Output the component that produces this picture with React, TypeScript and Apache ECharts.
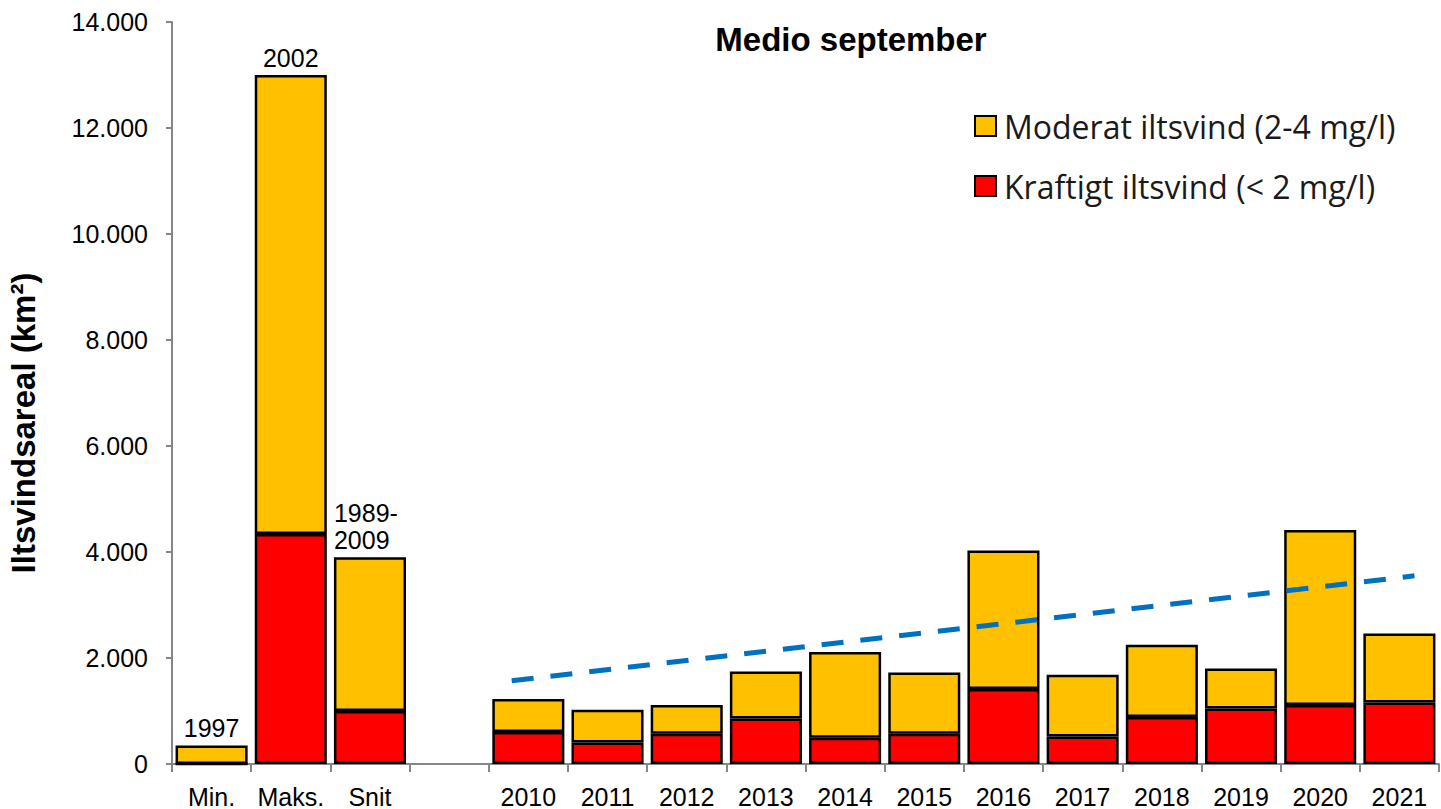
import React, { useEffect, useRef } from "react";
import * as echarts from "echarts";

const categories = ["Min.", "Maks.", "Snit", "", "2010", "2011", "2012", "2013", "2014", "2015", "2016", "2017", "2018", "2019", "2020", "2021"];
const kraftigt = [0, 4340, 1000, null, 603, 407, 571, 860, 496, 571, 1414, 521, 886, 1048, 1112, 1161];
const totals = [351, 13000, 3900, null, 1225, 1024, 1112, 1746, 2112, 1727, 4027, 1684, 2249, 1803, 4417, 2462];
const moderat = totals.map((t, i) => (t == null ? null : t - (kraftigt[i] as number)));
const topLabels = ["1997", "2002", "1989-\n2009", "", "", "", "", "", "", "", "", "", "", "", "", ""];
const trendLine: [number, number][] = [[3.79, 1570], [15.19, 3550]];
const yTicks = { min: 0, max: 14000, interval: 2000 };

const NAME_MOD = "Moderat iltsvind (2-4 mg/l)";
const NAME_KRA = "Kraftigt iltsvind (< 2 mg/l)";
const Y_NAME = "Iltsvindsareal (km²)";

export default function App() {
  const ref = useRef<HTMLDivElement>(null);
  useEffect(() => {
    if (!ref.current) return;
    const chart = echarts.init(ref.current, undefined, { renderer: "svg" });
    const axisFont = "'Liberation Sans', Arial, sans-serif";
    chart.setOption({
      animation: false,
      title: {
        text: "Medio september",
        left: 846,
        textAlign: "center",
        top: 18,
        textStyle: { fontFamily: axisFont, fontWeight: "bold", fontSize: 33, color: "#000" },
      },
      legend: {
        orient: "vertical",
        left: 969,
        top: 104,
        itemWidth: 21,
        itemHeight: 20,
        itemGap: 26,
        icon: "rect",
        data: [NAME_MOD, NAME_KRA],
        textStyle: { fontFamily: "'Open Sans', sans-serif", fontSize: 32, color: "#1a1a1a", lineHeight: 34, padding: [0, 0, 0, 3] },
        itemStyle: { borderColor: "#000", borderWidth: 2 },
      },
      graphic: [
        {
          type: "text",
          x: 23,
          y: 423,
          rotation: Math.PI / 2,
          style: {
            text: Y_NAME,
            fontFamily: axisFont,
            fontWeight: "bold",
            fontSize: 33,
            fill: "#000",
            align: "center",
            verticalAlign: "middle",
          },
        },
      ],
      grid: { left: 172, right: 2, top: 22, bottom: 45 },
      xAxis: [
        {
          type: "category",
          data: categories,
          axisLine: { lineStyle: { color: "#868686", width: 2 } },
          axisTick: { show: true, length: 8, lineStyle: { color: "#868686", width: 2 } },
          axisLabel: { fontFamily: axisFont, fontSize: 25, color: "#000", margin: 20, interval: 0 },
        },
        { type: "value", min: -0.5, max: 15.5, show: false },
      ],
      yAxis: {
        type: "value",
        min: yTicks.min,
        max: yTicks.max,
        interval: yTicks.interval,
        axisLine: { show: true, onZero: false, lineStyle: { color: "#868686", width: 2 } },
        axisTick: { show: true, length: 6, lineStyle: { color: "#868686", width: 2 } },
        splitLine: { show: false },
        axisLabel: {
          fontFamily: axisFont,
          fontSize: 25,
          color: "#000",
          margin: 24,
          formatter: (v: number) => v.toLocaleString("de-DE"),
        },
      },
      series: [
        {
          name: NAME_KRA,
          type: "bar",
          stack: "a",
          barCategoryGap: "9%",
          data: kraftigt,
          itemStyle: { color: "#FF0000", borderColor: "#000", borderWidth: 2.5 },
        },
        {
          name: NAME_MOD,
          type: "bar",
          stack: "a",
          barCategoryGap: "9%",
          data: moderat.map((v, i) => {
            const lbl = topLabels[i];
            const item: any = { value: v };
            if (lbl) {
              item.label = {
                show: true,
                position: "top",
                distance: 4,
                formatter: lbl,
                fontFamily: axisFont,
                fontSize: 25,
                lineHeight: 27,
                color: "#000",
              };
              if (lbl.includes("\n")) {
                item.label.align = "left";
                item.label.offset = [-36, 0];
              }
            }
            return item;
          }),
          itemStyle: { color: "#FFC000", borderColor: "#000", borderWidth: 2.5 },
        },
        {
          name: "trend",
          type: "line",
          xAxisIndex: 1,
          yAxisIndex: 0,
          data: trendLine,
          symbol: "none",
          silent: true,
          lineStyle: { color: "#0070C0", width: 5, type: [22, 17] },
        },
      ],
    });
    return () => chart.dispose();
  }, []);
  return <div ref={ref} style={{ width: 1441, height: 809, position: "absolute", left: 0, top: 0 }} />;
}
